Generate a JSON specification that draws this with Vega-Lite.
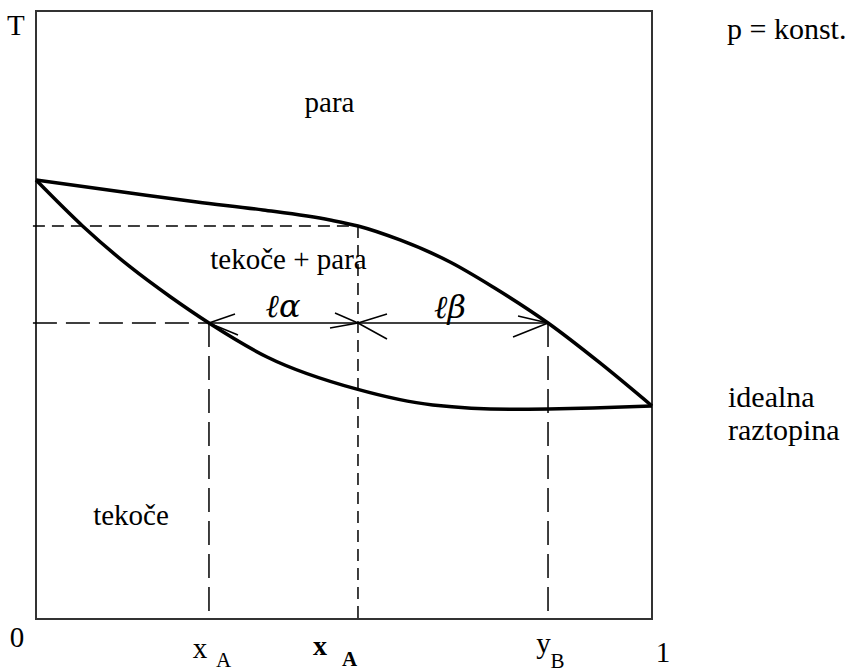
{
  "$schema": "https://vega.github.io/schema/vega-lite/v6.json",
  "width": 854,
  "height": 672,
  "autosize": {"type": "none"},
  "padding": 0,
  "background": "white",
  "config": {"view": {"stroke": null}, "text": {"font": "Liberation Serif", "color": "black"}},
  "datasets": {
    "box": [{"x": 0, "T": 0, "x2": 1, "T2": 1}],
    "curves": [
      {"series": "para", "x": 0.0, "T": 0.722},
      {"series": "para", "x": 0.1526, "T": 0.7007},
      {"series": "para", "x": 0.2614, "T": 0.6859},
      {"series": "para", "x": 0.3685, "T": 0.6727},
      {"series": "para", "x": 0.4773, "T": 0.6562},
      {"series": "para", "x": 0.5227, "T": 0.6464},
      {"series": "para", "x": 0.5909, "T": 0.6234},
      {"series": "para", "x": 0.6721, "T": 0.5872},
      {"series": "para", "x": 0.7419, "T": 0.5461},
      {"series": "para", "x": 0.8312, "T": 0.4868},
      {"series": "para", "x": 0.9156, "T": 0.4211},
      {"series": "para", "x": 1.0, "T": 0.3503},
      {"series": "tekoce", "x": 0.0, "T": 0.722},
      {"series": "tekoce", "x": 0.076, "T": 0.646},
      {"series": "tekoce", "x": 0.153, "T": 0.579},
      {"series": "tekoce", "x": 0.218, "T": 0.53},
      {"series": "tekoce", "x": 0.2808, "T": 0.4868},
      {"series": "tekoce", "x": 0.375, "T": 0.431},
      {"series": "tekoce", "x": 0.521, "T": 0.378},
      {"series": "tekoce", "x": 0.644, "T": 0.352},
      {"series": "tekoce", "x": 0.769, "T": 0.345},
      {"series": "tekoce", "x": 0.904, "T": 0.347},
      {"series": "tekoce", "x": 1.0, "T": 0.3503}
    ],
    "shortDash": [
      {"x": -0.005, "T": 0.6464, "x2": 0.5227, "T2": 0.6464},
      {"x": 0.5227, "T": 0.6464, "x2": 0.5227, "T2": 0.0}
    ],
    "longDash": [
      {"x": -0.005, "T": 0.4868, "x2": 0.2808, "T2": 0.4868},
      {"x": 0.2808, "T": 0.4868, "x2": 0.2808, "T2": 0.0},
      {"x": 0.8312, "T": 0.4868, "x2": 0.8312, "T2": 0.0}
    ],
    "tie": [
      {"x": 0.2808, "T": 0.4868, "x2": 0.8312, "T2": 0.4868},
      {"x": 0.2808, "T": 0.4868, "x2": 0.3231, "T2": 0.5016},
      {"x": 0.2808, "T": 0.4868, "x2": 0.3279, "T2": 0.4671},
      {"x": 0.5227, "T": 0.4868, "x2": 0.4854, "T2": 0.5033},
      {"x": 0.5227, "T": 0.4868, "x2": 0.4773, "T2": 0.4786},
      {"x": 0.5227, "T": 0.4868, "x2": 0.5698, "T2": 0.5016},
      {"x": 0.5227, "T": 0.4868, "x2": 0.5698, "T2": 0.4605},
      {"x": 0.8312, "T": 0.4868, "x2": 0.7825, "T2": 0.4984},
      {"x": 0.8312, "T": 0.4868, "x2": 0.7744, "T2": 0.4638}
    ],
    "labels": [
      {"x": -0.0325, "T": 0.96, "label": "T"},
      {"x": 0.4765, "T": 0.8339, "label": "para"},
      {"x": 0.4099, "T": 0.5757, "label": "tekoče + para"},
      {"x": 0.1542, "T": 0.1546, "label": "tekoče"},
      {"x": -0.0308, "T": -0.0461, "label": "0"},
      {"x": 0.2662, "T": -0.0641, "label": "x"},
      {"x": 0.8239, "T": -0.0559, "label": "y"},
      {"x": 1.0179, "T": -0.0707, "label": "1"}
    ],
    "subs": [
      {"x": 0.3044, "T": -0.079, "label": "A"},
      {"x": 0.8466, "T": -0.080, "label": "B"}
    ],
    "bold": [
      {"x": 0.461, "T": -0.0592, "label": "x", "size": "main"},
      {"x": 0.5089, "T": -0.078, "label": "A", "size": "sub"}
    ],
    "side": [
      {"x": 1.1218, "T": 0.9539, "label": "p = konst."},
      {"x": 1.1234, "T": 0.3487, "label": "idealna"},
      {"x": 1.1234, "T": 0.2944, "label": "raztopina"}
    ],
    "hand": [
      {"x": 0.401, "T": 0.4967, "label": "ℓα"},
      {"x": 0.6721, "T": 0.4951, "label": "ℓβ"}
    ]
  },
  "encoding": {
    "x": {"field": "x", "type": "quantitative", "scale": {"domain": [-0.058442, 1.327922], "nice": false, "zero": false}, "axis": null},
    "y": {"field": "T", "type": "quantitative", "scale": {"domain": [-0.087171, 1.018092], "nice": false, "zero": false}, "axis": null}
  },
  "layer": [
    {
      "data": {"name": "box"},
      "mark": {"type": "rect", "fill": null, "stroke": "#333333", "strokeWidth": 2},
      "encoding": {"x2": {"field": "x2"}, "y2": {"field": "T2"}}
    },
    {
      "data": {"name": "shortDash"},
      "mark": {"type": "rule", "color": "black", "strokeWidth": 1.5, "strokeDash": [12, 7]},
      "encoding": {"x2": {"field": "x2"}, "y2": {"field": "T2"}}
    },
    {
      "data": {"name": "longDash"},
      "mark": {"type": "rule", "color": "black", "strokeWidth": 1.5, "strokeDash": [24, 9]},
      "encoding": {"x2": {"field": "x2"}, "y2": {"field": "T2"}}
    },
    {
      "data": {"name": "tie"},
      "mark": {"type": "rule", "color": "black", "strokeWidth": 1.5},
      "encoding": {"x2": {"field": "x2"}, "y2": {"field": "T2"}}
    },
    {
      "data": {"name": "curves"},
      "mark": {"type": "line", "color": "black", "strokeWidth": 3.5, "interpolate": "monotone"},
      "encoding": {"detail": {"field": "series"}}
    },
    {
      "data": {"name": "labels"},
      "mark": {"type": "text", "font": "Liberation Serif", "fontSize": 29, "baseline": "alphabetic", "align": "center"},
      "encoding": {"text": {"field": "label"}}
    },
    {
      "data": {"name": "subs"},
      "mark": {"type": "text", "font": "Liberation Serif", "fontSize": 21, "baseline": "alphabetic", "align": "center"},
      "encoding": {"text": {"field": "label"}}
    },
    {
      "data": {"name": "bold"},
      "mark": {"type": "text", "font": "Liberation Serif", "fontWeight": "bold", "baseline": "alphabetic", "align": "center"},
      "encoding": {
        "text": {"field": "label"},
        "size": {"field": "size", "type": "nominal", "scale": {"domain": ["main", "sub"], "range": [28, 21]}, "legend": null}
      }
    },
    {
      "data": {"name": "side"},
      "mark": {"type": "text", "font": "Liberation Serif", "fontSize": 30, "baseline": "alphabetic", "align": "left"},
      "encoding": {"text": {"field": "label"}}
    },
    {
      "data": {"name": "hand"},
      "mark": {"type": "text", "font": "DejaVu Serif", "fontStyle": "italic", "fontSize": 32, "baseline": "alphabetic", "align": "center"},
      "encoding": {"text": {"field": "label"}}
    }
  ]
}
